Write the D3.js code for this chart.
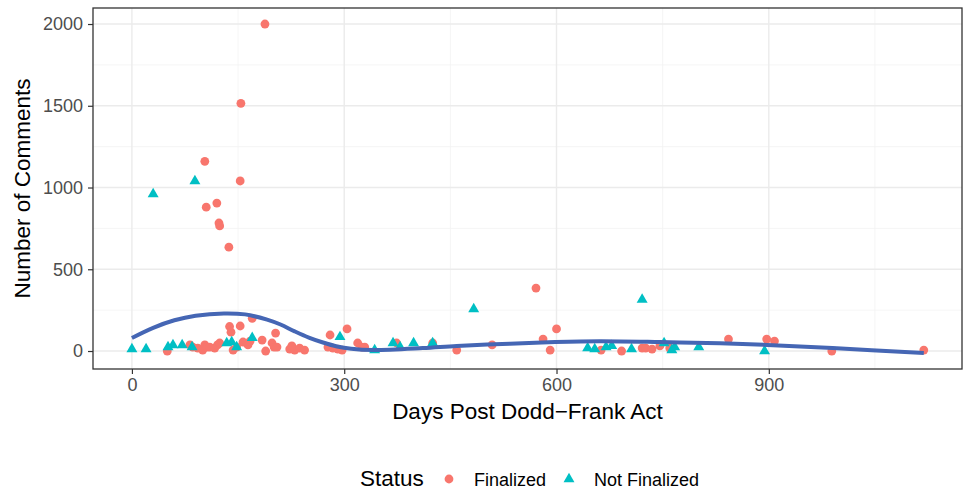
<!DOCTYPE html>
<html>
<head>
<meta charset="utf-8">
<script src="https://cdn.jsdelivr.net/npm/d3@7"></script>
<style>
html,body{margin:0;padding:0;background:#fff;}
text{font-family:"Liberation Sans",Arial,sans-serif;}
</style>
</head>
<body>
<svg id="chart" width="965" height="490"></svg>
<script>
// ---- Data ----
const finalizedDays = [188,154,103,153,105,120,123,124,137,170,138,153,140,203,304,280,571,600,581,591,843,897,908,989,1119,
  50,82,86,93,100,103,106,110,117,121,124,143,148,157,164,167,184,189,198,201,205,223,226,230,237,244,
  277,284,291,297,319,325,329,374,425,459,509,663,692,721,726,735,746,760];
const finalizedComments = [2000,1515,1160,1040,880,905,783,765,635,200,150,153,115,110,135,98,385,135,73,6,73,73,61,0,6,
  0,37,24,18,6,37,24,24,18,37,49,6,24,55,37,61,67,0,49,24,24,12,31,6,18,6,
  24,18,12,6,49,24,24,49,49,6,37,6,0,18,18,12,31,18];

const notFinalizedDays = [0,20,30,89,51,58,71,85,134,141,148,170,294,343,369,379,398,425,483,644,654,670,678,706,721,752,763,767,801,894];
const notFinalizedComments = [12,12,960,1040,24,37,37,24,49,55,24,80,86,6,49,24,49,49,257,18,12,24,31,12,315,49,6,24,24,0];

const smoothDays = [0,30,60,90,130,160,191,210,230,250,270,290,310,340,411,459,534,598,661,746,831,898,990,1119];
const smoothComments = [80,142,188,216,230,224,192,162,120,82,52,28,14,6,18,31,45,55,60,55,47,37,18,-12];

const xTicks = [0,300,600,900];
const xMinor = [150,450,750,1050];
const yTicks = [0,500,1000,1500,2000];
const yMinor = [250,750,1250,1750];

const statusLabels = ["Finalized","Not Finalized"];
const statusColors = ["#F8766D","#00BFC4"];

// ---- Layout ----
const svg = d3.select("#chart");
const panel = {left:93, right:962, top:8, bottom:369};

const x = d3.scaleLinear().domain([-55,1173]).range([panel.left,panel.right]);
const y = d3.scaleLinear().domain([-110,2098]).range([panel.bottom,panel.top]);

svg.append("rect").attr("x",0).attr("y",0).attr("width",965).attr("height",490).attr("fill","#fff");

const grid = svg.append("g");
grid.selectAll(".xmin").data(xMinor).enter().append("line")
  .attr("x1",d=>x(d)).attr("x2",d=>x(d)).attr("y1",panel.top).attr("y2",panel.bottom)
  .attr("stroke","#F2F2F2").attr("stroke-width",0.8);
grid.selectAll(".ymin").data(yMinor).enter().append("line")
  .attr("y1",d=>y(d)).attr("y2",d=>y(d)).attr("x1",panel.left).attr("x2",panel.right)
  .attr("stroke","#F2F2F2").attr("stroke-width",0.8);
grid.selectAll(".xmaj").data(xTicks).enter().append("line")
  .attr("x1",d=>x(d)).attr("x2",d=>x(d)).attr("y1",panel.top).attr("y2",panel.bottom)
  .attr("stroke","#EBEBEB").attr("stroke-width",1.4);
grid.selectAll(".ymaj").data(yTicks).enter().append("line")
  .attr("y1",d=>y(d)).attr("y2",d=>y(d)).attr("x1",panel.left).attr("x2",panel.right)
  .attr("stroke","#EBEBEB").attr("stroke-width",1.4);

// points
const fin = finalizedDays.map((d,i)=>({d:d,c:finalizedComments[i]}));
const nfin = notFinalizedDays.map((d,i)=>({d:d,c:notFinalizedComments[i]}));

svg.append("g").selectAll("circle").data(fin).enter().append("circle")
  .attr("cx",p=>x(p.d)).attr("cy",p=>y(p.c)).attr("r",4.4)
  .attr("fill",statusColors[0]);

const tri = d3.symbol().type(d3.symbolTriangle).size(52);
svg.append("g").selectAll("path").data(nfin).enter().append("path")
  .attr("d",tri).attr("transform",p=>`translate(${x(p.d)},${y(p.c)})`)
  .attr("fill",statusColors[1]);

// smooth line
const sm = smoothDays.map((d,i)=>({d:d,c:smoothComments[i]}));
svg.append("path").datum(sm)
  .attr("d",d3.line().x(p=>x(p.d)).y(p=>y(p.c)).curve(d3.curveCatmullRom.alpha(0.5)))
  .attr("fill","none").attr("stroke","#4566B4").attr("stroke-width",4);

// panel border
svg.append("rect").attr("x",panel.left).attr("y",panel.top)
  .attr("width",panel.right-panel.left).attr("height",panel.bottom-panel.top)
  .attr("fill","none").attr("stroke","#333333").attr("stroke-width",1.3);

// axes
const xAxis = svg.append("g").attr("transform",`translate(0,${panel.bottom})`)
  .call(d3.axisBottom(x).tickValues(xTicks).tickSize(5).tickPadding(4).tickFormat(d3.format("d")));
xAxis.select(".domain").remove();
xAxis.selectAll("line").attr("stroke","#333333").attr("stroke-width",1.2);
xAxis.selectAll("text").attr("fill","#4D4D4D").style("font-size","18px")
  .style("font-family","'Liberation Sans',Arial,sans-serif");

const yAxis = svg.append("g").attr("transform",`translate(${panel.left},0)`)
  .call(d3.axisLeft(y).tickValues(yTicks).tickSize(5).tickPadding(5).tickFormat(d3.format("d")));
yAxis.select(".domain").remove();
yAxis.selectAll("line").attr("stroke","#333333").attr("stroke-width",1.2);
yAxis.selectAll("text").attr("fill","#4D4D4D").style("font-size","18px")
  .style("font-family","'Liberation Sans',Arial,sans-serif");

// titles
svg.append("text").attr("x",(panel.left+panel.right)/2).attr("y",419)
  .attr("text-anchor","middle").style("font-size","22.5px").attr("fill","#000")
  .text("Days Post Dodd\u2212Frank Act");
svg.append("text").attr("transform",`translate(30,${(panel.top+panel.bottom)/2}) rotate(-90)`)
  .attr("text-anchor","middle").style("font-size","22.5px").attr("fill","#000")
  .text("Number of Comments");

// legend
const lg = svg.append("g");
lg.append("text").attr("x",360).attr("y",485.5).style("font-size","22.5px").attr("fill","#000").text("Status");
lg.append("circle").attr("cx",449).attr("cy",479).attr("r",4.4).attr("fill",statusColors[0]);
lg.append("text").attr("x",474).attr("y",485.5).style("font-size","18px").attr("fill","#000").text(statusLabels[0]);
lg.append("path").attr("d",tri).attr("transform","translate(569,479)").attr("fill",statusColors[1]);
lg.append("text").attr("x",594).attr("y",485.5).style("font-size","18px").attr("fill","#000").text(statusLabels[1]);
</script>
</body>
</html>
